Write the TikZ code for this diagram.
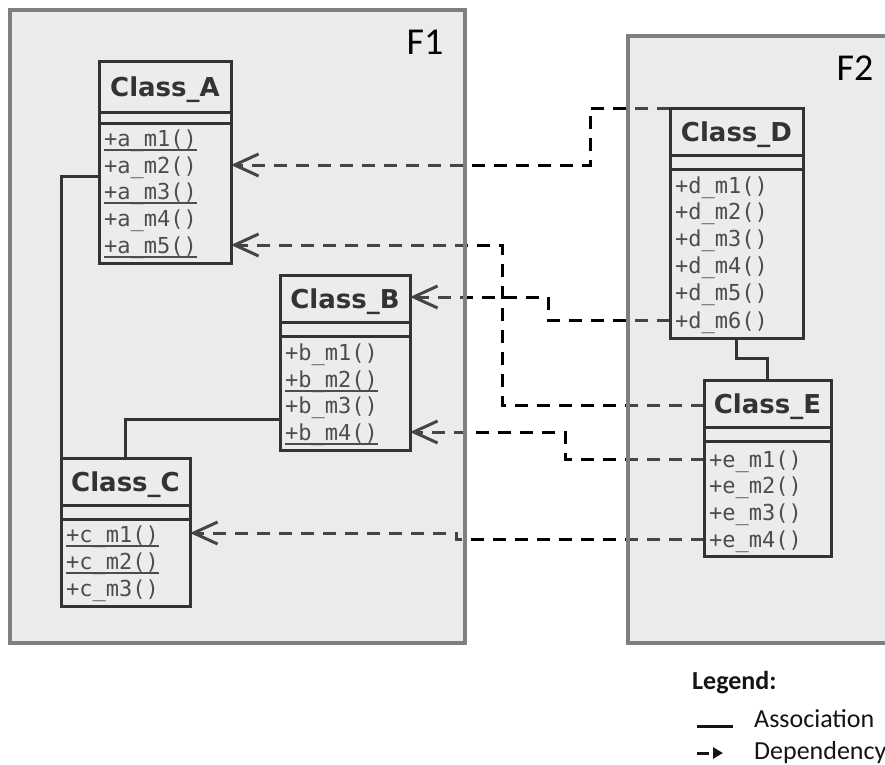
\documentclass[tikz,border=0pt]{standalone}
\usepackage{fontspec}
\newfontfamily\ttlfont{DejaVu Sans}
\newfontfamily\mthfont{DejaVu Sans Mono}
\newfontfamily\lblfont{Carlito}
\usetikzlibrary{arrows.meta}
\definecolor{frameedge}{HTML}{7F7F7F}
\definecolor{framefill}{HTML}{C8C8C8}
\definecolor{boxfill}{HTML}{ECECEC}
\definecolor{ink}{HTML}{333333}
\definecolor{mthink}{HTML}{4D4D4D}
\definecolor{lgdink}{HTML}{141414}
% static (class-scope) operations are underlined
\newcommand\ulmeth[1]{\setbox0\hbox{#1}\rlap{\color{mthink}\rule[-5pt]{\wd0}{1.6pt}}\box0}
% drawing order: white ground, dependencies, packages, associations, classes
\pgfdeclarelayer{ground}
\pgfdeclarelayer{deps}
\pgfdeclarelayer{packages}
\pgfdeclarelayer{links}
\pgfsetlayers{ground,deps,packages,links,main}
\begin{document}
\begin{tikzpicture}[x=1pt,y=-1pt,
  frame/.style={draw=frameedge, line width=4pt, fill=framefill, fill opacity=0.35,
    anchor=north west, inner sep=0pt, outer sep=0pt},
  flabel/.style={font=\lblfont\fontsize{38}{40}\selectfont, text=black},
  cls/.style={draw=ink, line width=3pt, fill=boxfill, anchor=north west,
    inner sep=0pt, outer sep=0pt},
  sep/.style={draw=ink, line width=3pt},
  ttl/.style={font=\ttlfont\bfseries\fontsize{26}{30}\selectfont, text=ink,
    inner sep=0pt, anchor=base},
  mth/.style={font=\mthfont\fontsize{22}{26}\selectfont, text=mthink,
    anchor=base west, inner sep=0pt},
  assoc/.style={draw=ink, line width=3pt},
  dep/.style={draw=black, line width=3pt, dash pattern=on 13pt off 9pt,
    -{Straight Barb[length=24pt,width=22pt]}},
  lgdtxt/.style={font=\lblfont\fontsize{26}{28}\selectfont, text=lgdink,
    anchor=base west, inner sep=0pt}
]
\begin{pgfonlayer}{ground}
\fill[white] (0,0) rectangle (885,764);
\end{pgfonlayer}
\clip (0,0) rectangle (885,764);

% ---------- classes ----------
% Class_A
\node[cls, minimum width=132pt, minimum height=202pt] (A) at (99,61) {};
\draw[sep] (A.west |- 0,112) -- (A.east |- 0,112);
\draw[sep] (A.west |- 0,123) -- (A.east |- 0,123);
\node[ttl] (At) at (165,96) {Class\_A};
\node[mth] (A1) at (104,146) {\ulmeth{+a\_m1()}};
\node[mth] (A2) at (104,173) {+a\_m2()};
\node[mth] (A3) at (104,199) {\ulmeth{+a\_m3()}};
\node[mth] (A4) at (104,226) {+a\_m4()};
\node[mth] (A5) at (104,253) {\ulmeth{+a\_m5()}};

% Class_B
\node[cls, minimum width=130pt, minimum height=175pt] (B) at (280,275) {};
\draw[sep] (B.west |- 0,322) -- (B.east |- 0,322);
\draw[sep] (B.west |- 0,336) -- (B.east |- 0,336);
\node[ttl] (Bt) at (345,308) {Class\_B};
\node[mth] (B1) at (285,360) {+b\_m1()};
\node[mth] (B2) at (285,387) {\ulmeth{+b\_m2()}};
\node[mth] (B3) at (285,413) {+b\_m3()};
\node[mth] (B4) at (285,440) {\ulmeth{+b\_m4()}};

% Class_C
\node[cls, minimum width=129pt, minimum height=148pt] (C) at (61,458) {};
\draw[sep] (C.west |- 0,505) -- (C.east |- 0,505);
\draw[sep] (C.west |- 0,519) -- (C.east |- 0,519);
\node[ttl] (Ct) at (125.5,491) {Class\_C};
\node[mth] (C1) at (66,542) {\ulmeth{+c\_m1()}};
\node[mth] (C2) at (66,569) {\ulmeth{+c\_m2()}};
\node[mth] (C3) at (66,596) {+c\_m3()};

% Class_D
\node[cls, minimum width=133pt, minimum height=230pt] (D) at (670,108) {};
\draw[sep] (D.west |- 0,155) -- (D.east |- 0,155);
\draw[sep] (D.west |- 0,169) -- (D.east |- 0,169);
\node[ttl] (Dt) at (736.5,141) {Class\_D};
\node[mth] (D1) at (675,193) {+d\_m1()};
\node[mth] (D2) at (675,219) {+d\_m2()};
\node[mth] (D3) at (675,246) {+d\_m3()};
\node[mth] (D4) at (675,273) {+d\_m4()};
\node[mth] (D5) at (675,300) {+d\_m5()};
\node[mth] (D6) at (675,328) {+d\_m6()};

% Class_E
\node[cls, minimum width=127pt, minimum height=176pt] (E) at (704,380) {};
\draw[sep] (E.west |- 0,427) -- (E.east |- 0,427);
\draw[sep] (E.west |- 0,441) -- (E.east |- 0,441);
\node[ttl] (Et) at (767.5,413) {Class\_E};
\node[mth] (E1) at (709,467) {+e\_m1()};
\node[mth] (E2) at (709,493) {+e\_m2()};
\node[mth] (E3) at (709,520) {+e\_m3()};
\node[mth] (E4) at (709,547) {+e\_m4()};

% ---------- dependencies (seen through the package fill) ----------
\begin{pgfonlayer}{deps}
\draw[dep] (D.north west) -- (590,108) |- (A.east |- 0,165);
\draw[dep] (E.west |- 0,405) -- (502,405) |- (A.east |- 0,245);
\draw[dep] (D.west |- 0,320) -- (548,320) |- (B.east |- 0,297);
\draw[dep] (E.west |- 0,459) -- (565,459) |- (B.east |- 0,432);
\draw[dep] (E.west |- 0,539) -- (456,539) |- (C.east |- 0,533);
\end{pgfonlayer}

% ---------- packages ----------
\begin{pgfonlayer}{packages}
\node[frame, minimum width=455pt, minimum height=633pt] (F1) at (10,10) {};
\node[frame, minimum width=290pt, minimum height=607pt] (F2) at (628,36) {};
\node[flabel] (F1lbl) at (425,42) {F1};
\node[flabel] (F2lbl) at (855,68) {F2};
\end{pgfonlayer}

% ---------- associations ----------
\begin{pgfonlayer}{links}
\draw[assoc] (A.west |- 0,176) -| (C.north west);
\draw[assoc] (B.west |- 0,419) -| (C.north);
\draw[assoc] (D.south) -- ++(0,20) -| (E.north);
\end{pgfonlayer}

% ---------- legend ----------
\node[lgdtxt, font=\lblfont\bfseries\fontsize{26}{28}\selectfont] (lgd) at (692,689) {Legend:};
\coordinate (as1) at (697,726);
\coordinate (as2) at (733,726);
\draw[line width=3pt, draw=lgdink] (as1) -- (as2);
\node[lgdtxt] (astxt) at (754,727) {Association};
\coordinate (dp1) at (697,753);
\coordinate (dp2) at (723,753);
\draw[line width=3pt, draw=lgdink, dash pattern=on 12pt off 5pt,
  -{Triangle[length=10pt,width=11pt]}] (dp1) -- (dp2);
\node[lgdtxt] (dptxt) at (754,759) {Dependency};
\end{tikzpicture}
\end{document}
